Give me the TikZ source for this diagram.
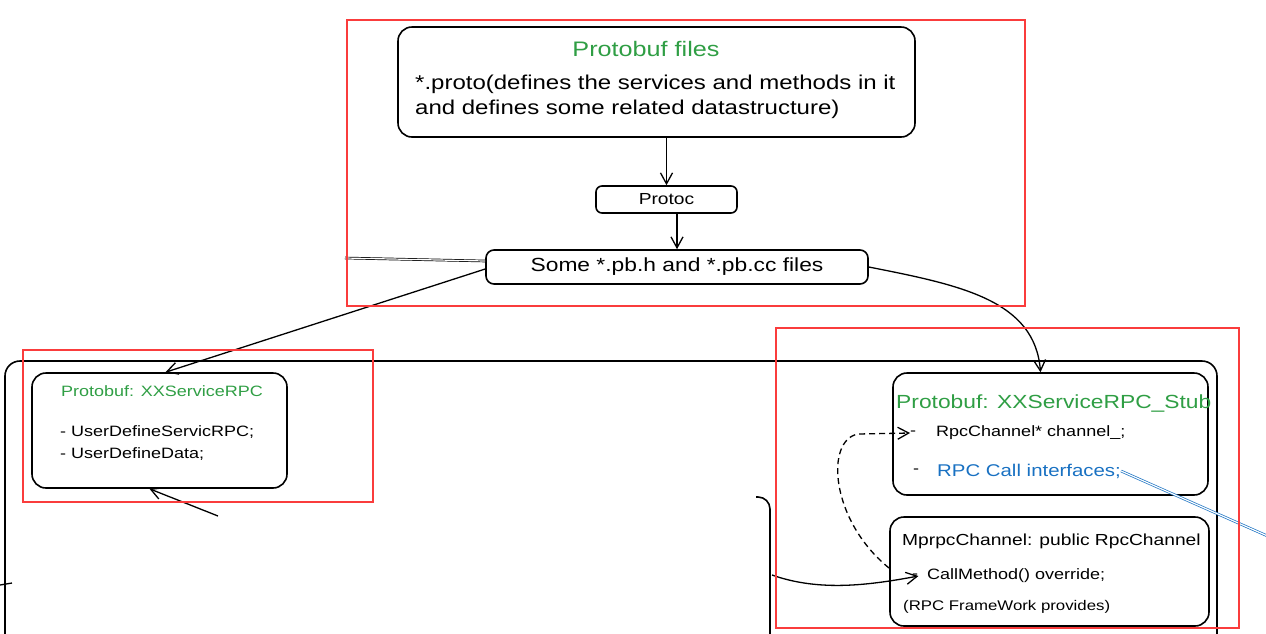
\documentclass[tikz,border=0pt]{standalone}
\usepackage{fontspec}
\setmainfont[FakeStretch=1.2]{Liberation Sans}
\usetikzlibrary{arrows.meta}
\definecolor{frameRed}{RGB}{250,60,60}
\definecolor{titleGreen}{RGB}{47,158,68}
\definecolor{linkBlue}{RGB}{25,113,194}

\begin{document}
\begin{tikzpicture}[x=1pt,y=-1pt,
  box/.style={draw,rounded corners=14pt,line width=1.6pt,inner sep=0pt},
  txt/.style={inner sep=0pt},
  sz/.style={font={\fontsize{#1pt}{#1pt}\selectfont}},
  redframe/.style={draw=frameRed,line width=2.6pt},
  arr/.style={line width=1.3pt,-{Straight Barb[length=11pt,width=12pt]}},
  dbl/.style={double,double distance=1.2pt,line width=0.7pt}]
\useasboundingbox (0,0) rectangle (1266,633);

% outer box and the partly hidden one
\draw[line width=1.6pt,rounded corners=15pt] (5,660) -- (5,361) -- (1217,361) -- (1217,660);
\draw[line width=1.6pt,rounded corners=12pt] (756,497) -- (770,497) -- (770,650);

% protobuf files
\node[box,minimum width=517,minimum height=110] (files) at (656.5,82) {};
\node[txt,sz=21,text=titleGreen] (filesTitle) at (646,49) {Protobuf files};
\node[txt,sz=20,anchor=west] (filesLine1) at (415,84) {*.proto(defines the services and methods in it};
\node[txt,sz=20,anchor=west] (filesLine2) at (415,109) {and defines some related datastructure)};

\node[box,rounded corners=6pt,minimum width=141,minimum height=27,sz=16] (protoc) at (666.5,199.5) {Protoc};
\node[box,rounded corners=8pt,minimum width=382,minimum height=34,sz=19] (pbfiles) at (677,267) {Some *.pb.h and *.pb.cc files};

% service side
\node[box,minimum width=255,minimum height=115] (svc) at (159.5,430.5) {};
\node[txt,sz=15,text=titleGreen] (svcTitle) at (162,391) {Protobuf: XXServiceRPC};
\node[txt,sz=15,anchor=west] (svcLine1) at (60,432) {- UserDefineServicRPC;};
\node[txt,sz=15,anchor=west] (svcLine2) at (60,454) {- UserDefineData;};

% stub side
\node[box,minimum width=315,minimum height=122] (stub) at (1050.5,434) {};
\node[txt,sz=19,text=titleGreen,anchor=west] (stubTitle) at (896,403) {Protobuf: XXServiceRPC\_Stub};
\node[txt,sz=15,anchor=west] (stubDash1) at (910,433) {-};
\node[txt,sz=15,anchor=west] (stubLine1) at (936,433) {RpcChannel* channel\_;};
\node[txt,sz=15,anchor=west] (stubDash2) at (913,471) {-};
\node[txt,sz=17,text=linkBlue,anchor=west] (stubLine2) at (937,471) {RPC Call interfaces;};

\node[box,minimum width=319,minimum height=109] (mprpc) at (1049.5,571.5) {};
\node[txt,sz=16,anchor=west] (mprpcTitle) at (902,541) {MprpcChannel: public RpcChannel};
\node[txt,sz=15,anchor=west] (mprpcDash) at (912,576) {-};
\node[txt,sz=15,anchor=west] (mprpcLine1) at (927,576) {CallMethod() override;};
\node[txt,sz=14,anchor=west] (mprpcLine2) at (903,607) {(RPC FrameWork provides)};

% loose ends
\coordinate (leftEnd) at (345,258);
\coordinate (hidBottom) at (218,516);
\coordinate (hidRight) at (772,575);
\coordinate (offRight) at (1272,538);
\coordinate (farLeft) at (0,585);
\coordinate (farLeftEnd) at (12,583);

% arrows
\draw[arr] (files.south -| protoc.north) -- (protoc.north);
\draw[arr] (protoc.south -| pbfiles.north) -- (pbfiles.north);
\draw[dbl] ([yshift=6pt]pbfiles.west) -- (leftEnd);
\draw[arr] ([yshift=-2pt]pbfiles.west) -- ([xshift=6pt]svc.north);
\draw[arr] (pbfiles.east) .. controls (960,285) and (1035,300) .. ([xshift=-10pt]stub.north);
\draw[arr] (hidBottom) -- ([xshift=-10pt]svc.south);
\draw[arr] (hidRight) .. controls (820,592) and (870,585) .. (mprpcDash.east);
\draw[arr,dash pattern=on 6pt off 4pt] ([shift={(-23pt,8pt)}]mprpcDash.west) .. controls (830,520) and (825,440) .. (858,434) -- (stubDash1.west);
\draw[linkBlue,dbl] (stubLine2.east) -- (offRight);
\draw[line width=1.3pt] (farLeft) -- (farLeftEnd);

% red frames
\draw[redframe] (347,20) rectangle (1025,306);
\draw[redframe] (23,350) rectangle (373,502);
\draw[redframe] (776,328) rectangle (1239,628);
\end{tikzpicture}
\end{document}
